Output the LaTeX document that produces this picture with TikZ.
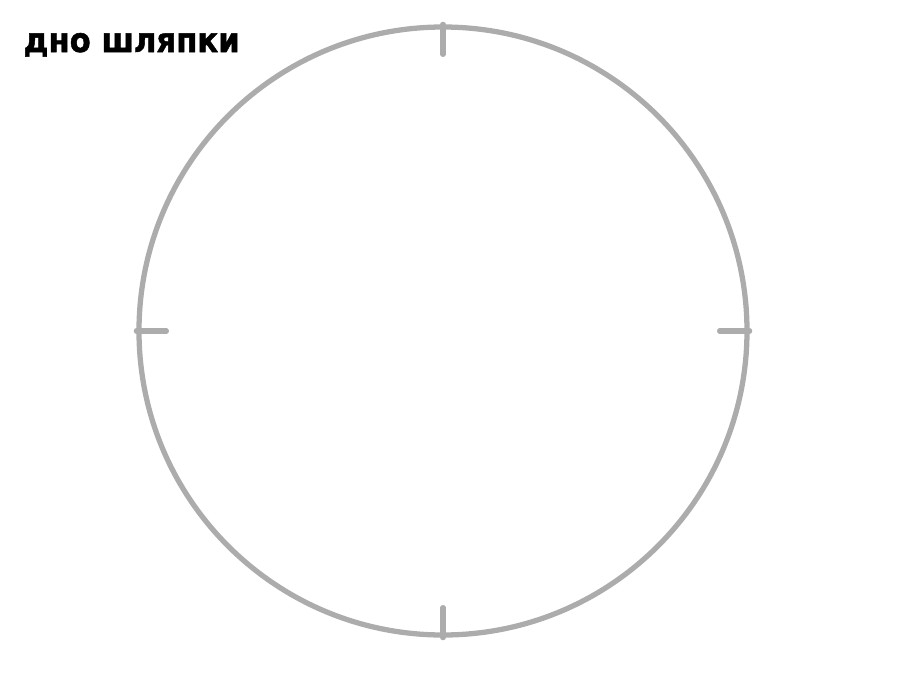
\documentclass[tikz,border=0pt]{standalone}
\usepackage{fontspec}
\newfontfamily\capfont[BoldFeatures={FakeBold=1.5}]{DejaVu Sans}
\usetikzlibrary{positioning}

\tikzset{
  rimline/.style={draw=gray!65, line width=1.5pt},
  tickline/.style={draw=gray!65, line width=1.5pt, line cap=round},
  caplabel/.style={font=\capfont\bfseries, inner sep=0pt, anchor=base west}
}

\begin{document}
\begin{tikzpicture}
		\useasboundingbox (0,0) rectangle (9,-6.75);
		
		%title
		\node[caplabel] (title) at (0.23,-0.52) {\resizebox{2.16cm}{0.19cm}{дно шляпки}};
		
		%rim
		\node[rimline, circle, minimum size=6.08cm, inner sep=0pt] (rim) at (4.43,-3.31) {};
		
		% ticks
		\draw[tickline] (rim.north) -- ++(0,-0.3);
		\draw[tickline] (rim.south) -- ++(0,0.3);
		\draw[tickline] (rim.west) -- ++(0.3,0);
		\draw[tickline] (rim.east) -- ++(-0.3,0);
		
\end{tikzpicture}
\end{document}
